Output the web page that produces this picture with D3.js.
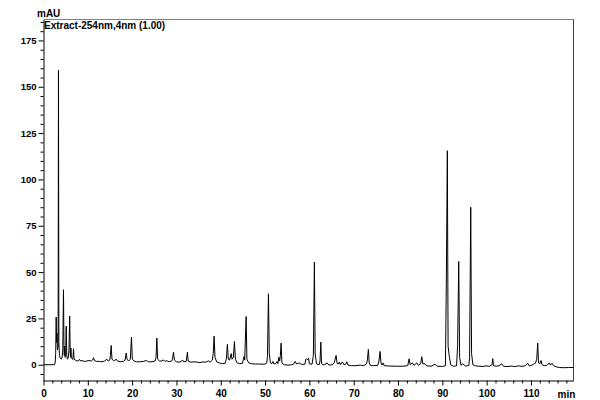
<!DOCTYPE html>
<html>
<head>
<meta charset="utf-8">
<script src="https://cdn.jsdelivr.net/npm/d3@7"></script>
<style>
  body { margin: 0; background: #fff; }
  svg { display: block; }
  text { font-family: "Liberation Sans", Arial, sans-serif; font-weight: bold; fill: #000; }
</style>
</head>
<body>
<svg id="chart" width="600" height="400"></svg>
<script>
// Retention time (min) of each trace point
const rtMin = [0,2.5,2.65,2.75,2.86,2.95,3.05,3.15,3.3,3.38,3.47,3.6,3.8,4.0,4.2,4.35,4.51,4.62,4.7,4.78,4.88,5.0,5.12,5.25,5.4,5.6,5.75,5.91,6.03,6.1,6.18,6.3,6.5,6.65,6.77,6.9,7.2,7.6,7.9,8.12,8.35,8.7,9.2,9.8,10.3,10.8,11.1,11.28,11.5,12,12.6,13.2,13.8,14.3,14.6,14.95,15.1,15.27,15.45,15.8,16.1,16.4,16.7,17.3,18,18.4,18.66,18.85,19.2,19.6,19.85,20.05,20.4,21,21.8,22.5,23.2,23.7,24.5,25.2,25.4,25.58,25.75,26.2,26.6,27.07,27.4,27.8,28.3,28.9,29.1,29.33,29.55,30,30.6,31.1,31.36,31.6,32.2,32.48,32.65,33.2,34,34.6,35.3,36,36.7,37.22,37.6,38.1,38.3,38.5,38.7,39.1,39.7,40.4,41,41.25,41.5,41.7,42.0,42.34,42.55,42.85,43.09,43.3,43.7,44.3,44.9,45.1,45.27,45.4,45.73,45.9,46.3,47,47.8,48.5,49.3,50,50.4,50.55,50.76,50.95,51.2,51.5,51.75,52,52.4,52.7,52.9,53.1,53.3,53.45,53.62,53.8,54.3,55.2,56,56.4,56.78,57.1,57.7,58.2,59,59.2,59.42,59.6,59.82,60,60.6,60.9,61.13,61.3,61.6,62.2,62.4,62.58,62.75,63.3,64,64.4,65.2,65.6,66.03,66.25,66.5,66.77,67,67.45,67.8,68.2,68.44,68.7,69.5,70.5,71.5,72.3,72.9,73.1,73.31,73.5,73.8,74.5,75.4,75.7,75.95,76.15,76.4,76.63,76.9,78,79.5,81,82.2,82.5,82.75,83.24,83.6,84.23,84.6,85.1,85.36,85.6,86.1,86.5,87.5,88.36,88.8,90,90.7,90.9,91.13,91.3,91.6,91.9,92.5,93.2,93.45,93.7,93.9,94.2,94.6,95.3,96.0,96.15,96.41,96.6,96.9,97.5,98.3,99.2,100,100.6,101.2,101.38,101.55,102.2,102.8,103.4,103.8,104.6,105.5,106.3,107.2,108,108.8,109.27,109.6,110.2,110.6,111.0,111.3,111.53,111.7,112.0,112.27,112.5,113,113.6,114.14,114.4,114.75,115.1,115.81,116.5,117.5,118.5,119.6];
// Detector signal (mAU) at each of those times
const signalMAU = [0,0,1.5,6,25.7,12,17,8,10,159,12,5,3.5,3,4,8,40.5,8,5,10,4,5,20.8,5,3,4,8,26.2,6,4,9,4,3,3,8.6,3,2.5,2,2.2,2.9,2,2.3,1.8,2,2.3,2,2.6,3.8,2.2,1.8,1.8,1.6,2,3,2,2.5,5,10.4,3,2.2,2.4,3,2,1.6,1.8,2.5,6.3,3,2,3,14.9,3,2,1.6,1.6,1.8,2.3,1.6,1.6,2,4,14.4,3,2,2,2.6,1.8,2.2,1.6,2,3,6.8,2.5,1.6,1.4,1.8,2.6,1.6,1.8,6.8,2,1.4,1.6,1.4,1.2,1.5,1.4,2.1,1.4,2.5,6,15.4,4,1.5,1,0.6,0.8,3,11,3,2.5,6,3,4,12.6,3,1,0.6,0.8,3,4.5,2.5,26,3,1,0.5,0.4,0.4,0.3,0.4,1,5,38.3,6,1,0.5,1.8,0.4,0.6,1.8,0.6,4,2,5,11.7,1,0,-0.2,0,0.3,1.8,0.4,1,0.2,0.3,3,3.2,2.8,3.5,0.5,0.3,5,55.4,6,0.5,0,2,12.2,0.5,-0.2,1,-0.2,0,1,5,0.8,0.3,1.5,0,1.5,0,0.3,1.6,-0.2,-0.5,-0.5,-0.2,-0.5,0.5,3,8.3,1,-0.4,-0.5,-0.4,2,7.2,1,-0.2,1,-0.5,-0.7,-0.8,-0.8,-0.5,3.2,0,1,-0.4,1,-0.3,0.5,4.3,0.5,0.5,-0.6,-0.8,0.3,-0.8,-0.9,-0.5,44,115.5,10,4,0,-0.8,-0.6,10,55.7,4,-0.3,0.5,-0.8,-0.3,4,85,6,0,-0.6,-0.8,-0.9,-0.6,-0.9,0,3.3,-0.5,-0.8,-0.5,0.5,-0.8,-1,-0.7,-1,-0.6,-0.9,-0.4,0.8,-0.6,-0.2,0.3,0.8,3,11.7,1,0.5,2.3,0,-0.5,-0.3,1,-0.2,0.8,-0.5,-1.2,-1.5,-1.6,-1.5,-1.5];

const xMajorTicks = [0,10,20,30,40,50,60,70,80,90,100,110];
const yMajorTicks = [0,25,50,75,100,125,150,175];
const xMinorStep = 2;
const yMinorStep = 5;
const xDomain = [0, 119.6];
const yDomain = [-8.5, 186.3];
const yUnitLabel = "mAU";
const xUnitLabel = "min";
const traceTitle = "Extract-254nm,4nm (1.00)";

const svg = d3.select("#chart");
const x = d3.scaleLinear().domain(xDomain).range([43.5, 573.5]);
const y = d3.scaleLinear().domain(yDomain).range([380.5, 19.5]);

const xMinor = d3.range(0, xDomain[1], xMinorStep).filter(v => v % 10 !== 0);
const yMinor = d3.range(-5, yDomain[1], yMinorStep).filter(v => v % 25 !== 0);

// frame: top and right borders
svg.append("line").attr("x1", 43.5).attr("x2", 573.5).attr("y1", 19.5).attr("y2", 19.5)
  .attr("stroke", "#808080").attr("stroke-width", 1);
svg.append("line").attr("x1", 573.5).attr("x2", 573.5).attr("y1", 19.5).attr("y2", 380.5)
  .attr("stroke", "#404040").attr("stroke-width", 1);

// minor ticks
svg.append("g").attr("transform", "translate(0,380.5)")
  .call(d3.axisBottom(x).tickValues(xMinor).tickSize(3).tickSizeOuter(0).tickFormat(""))
  .call(g => g.select(".domain").remove());
svg.append("g").attr("transform", "translate(43.5,0)")
  .call(d3.axisLeft(y).tickValues(yMinor).tickSize(3).tickSizeOuter(0).tickFormat(""))
  .call(g => g.select(".domain").remove());

// major axes
const xAxis = svg.append("g").attr("transform", "translate(0,380.5)")
  .call(d3.axisBottom(x).tickValues(xMajorTicks).tickSize(5).tickSizeOuter(0).tickPadding(4).tickFormat(d3.format("d")));
xAxis.selectAll("text").style("font-size", "10px").style("font-family", "Liberation Sans, Arial, sans-serif").style("font-weight", "bold");
const yAxis = svg.append("g").attr("transform", "translate(43.5,0)")
  .call(d3.axisLeft(y).tickValues(yMajorTicks).tickSize(5).tickSizeOuter(0).tickPadding(2).tickFormat(d3.format("d")));
yAxis.selectAll("text").style("font-size", "9.5px").style("font-family", "Liberation Sans, Arial, sans-serif").style("font-weight", "bold");
svg.selectAll(".domain").attr("stroke", "#000");
svg.selectAll(".tick line").attr("stroke", "#000");

// trace
const pts = rtMin.map((t, i) => [t, signalMAU[i]]);
svg.append("path").datum(pts)
  .attr("fill", "none").attr("stroke", "#000").attr("stroke-width", 1)
  .attr("d", d3.line().x(d => x(d[0])).y(d => y(d[1])));

// labels
svg.append("text").attr("x", 37).attr("y", 16.5).style("font-size", "10px").text(yUnitLabel);
svg.append("text").attr("x", 44).attr("y", 28.5).style("font-size", "10px").text(traceTitle);
svg.append("text").attr("x", 566.5).attr("y", 397.5).attr("text-anchor", "middle").style("font-size", "10px").text(xUnitLabel);
</script>
</body>
</html>
